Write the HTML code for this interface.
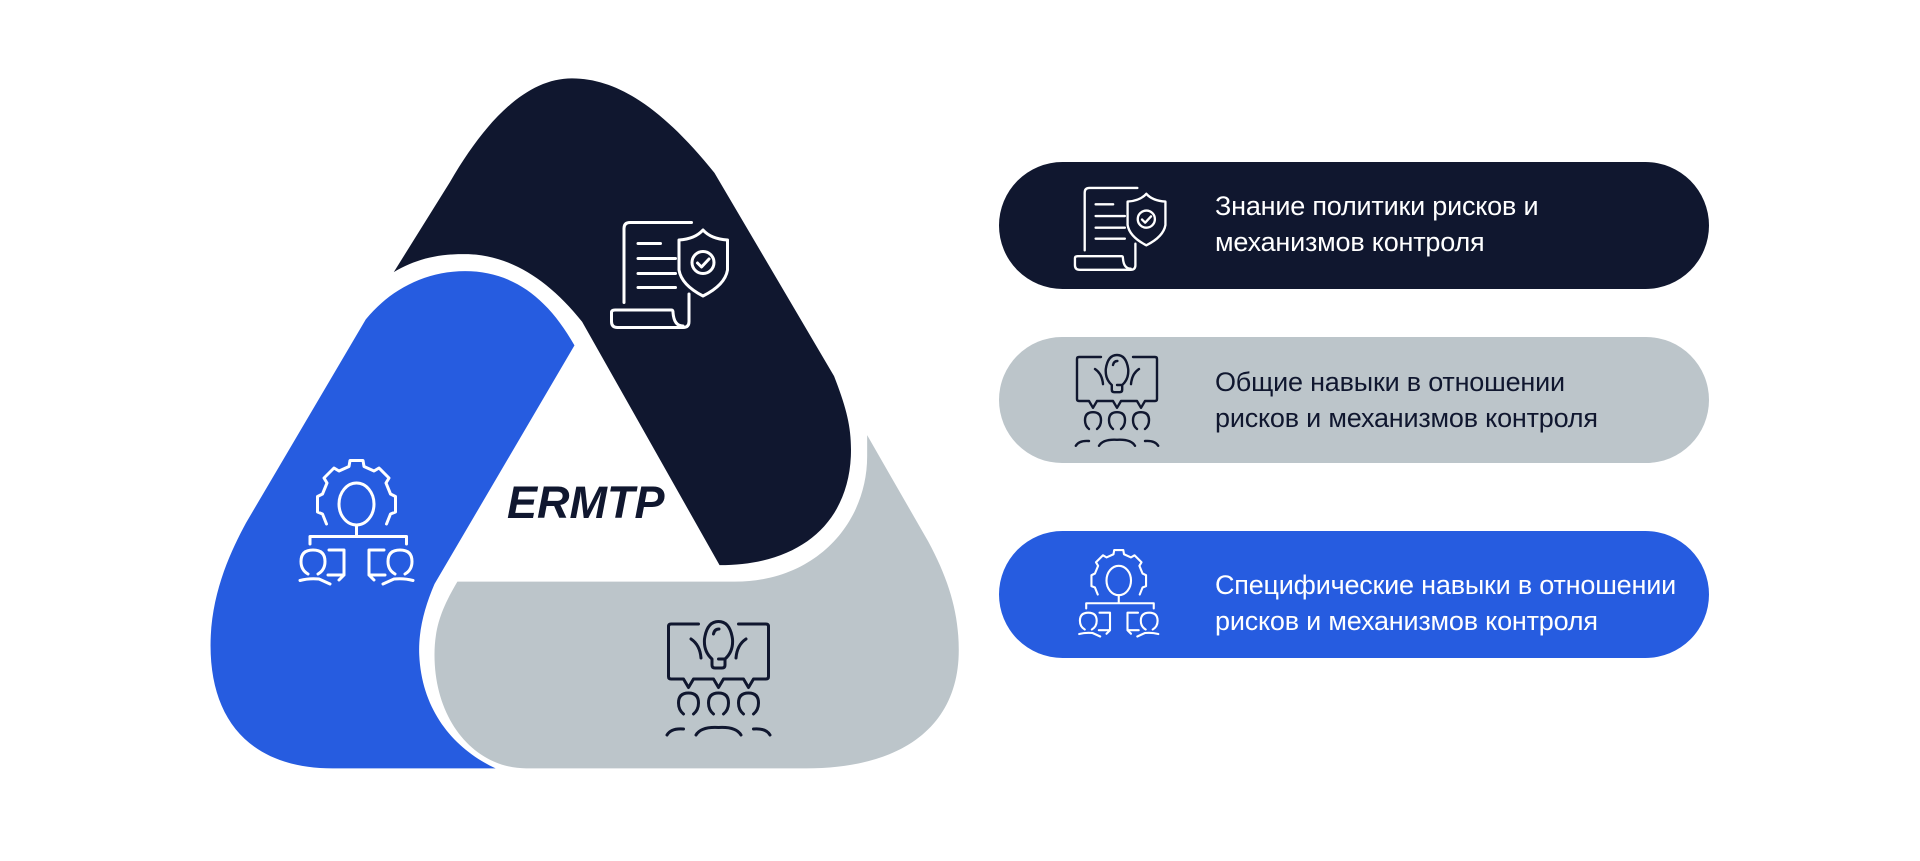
<!DOCTYPE html>
<html><head><meta charset="utf-8"><style>
html,body{margin:0;padding:0;background:#fff;width:1920px;height:861px;overflow:hidden;font-family:"Liberation Sans",sans-serif}
.pill{position:absolute;left:999px;width:710px;border-radius:64px}
.txt{position:absolute;left:1215px;font-size:27px;line-height:36px;letter-spacing:-0.2px}
</style></head><body>
<svg width="1920" height="861" style="position:absolute;left:0;top:0">
<defs>
<g id="ic1" fill="none" stroke-width="6" stroke-linecap="round" stroke-linejoin="round">
 <path d="M165,5 L42,5 Q30,5 30,17 L30,165"/>
 <path d="M58,47 H103 M58,77 H133 M58,107 H133 M58,135 H133"/>
 <path d="M160,148 L160,203 Q160,215 148,215 L17,215 Q5,215 5,203 L5,185 Q5,180 12,180 L125,180 Q128,180 128,185 Q130,212 148,212"/>
 <path d="M188,20 Q172,38 140,40 L140,100 Q145,130 188,152 Q232,130 237,100 L237,40 Q204,38 188,20 Z"/>
 <circle cx="188" cy="85" r="22"/>
 <path d="M177,86 L185,94 L200,78"/>
</g>
<g id="ic2" fill="none" stroke-width="6" stroke-linecap="round" stroke-linejoin="round">
 <ellipse cx="125" cy="90" rx="35" ry="42"/>
 <path d="M65,130 L57,110 L47,106 L47,75 L57,70 L66,48 L60,38 L80,18 L90,24 L110,15 L112,3 L138,3 L140,15 L160,24 L170,18 L190,38 L184,48 L193,70 L203,75 L203,106 L193,110 L185,130"/>
 <path d="M125,132 V155 M32,170 V155 H225 V170"/>
 <path d="M28,230 Q14,222 14,205 Q14,182 38,182 Q62,182 62,205 Q62,222 48,230"/>
 <path d="M12,243 Q30,238 50,240 L72,250"/>
 <path d="M70,182 H100 V232 L90,242 M68,232 H100"/>
 <path d="M222,230 Q236,222 236,205 Q236,182 212,182 Q188,182 188,205 Q188,222 202,230"/>
 <path d="M238,243 Q220,238 200,240 L178,250"/>
 <path d="M180,182 H150 V232 L160,242 M182,232 H150"/>
</g>
<g id="ic3" fill="none" stroke-width="6" stroke-linecap="round" stroke-linejoin="round">
 <path d="M65,10 H10 Q5,10 5,15 V115 Q5,120 10,120 H35 L45,137 L55,120 H95 L105,137 L115,120 H155 L165,137 L175,120 H200 Q205,120 205,115 V15 Q205,10 200,10 H145"/>
 <path d="M92,80 Q75,65 77,40 Q82,5 105,5 Q128,5 133,40 Q135,65 118,80 L118,92 Q118,98 112,98 H98 Q92,98 92,92 Z M105,80 H118"/>
 <path d="M95,30 Q97,20 106,20"/>
 <path d="M50,40 Q68,52 70,78 M160,40 Q142,52 140,78"/>
 <g id="pp"><path d="M35,190 Q25,182 25,168 Q25,148 45,148 Q65,148 65,168 Q65,182 55,190"/></g>
 <use href="#pp" transform="translate(60,0)"/><use href="#pp" transform="translate(120,0)"/>
 <path d="M2,232 Q10,218 35,220 M60,232 Q70,215 105,217 Q140,215 150,232 M175,220 Q200,218 208,232"/>
</g>
</defs>
<g transform="translate(180,50) scale(0.509,0.4726)">
 <path fill="#10172f" d="M420,470 L530,280 C600,150 680,60 770,60 C870,60 960,140 1050,260 L1285,690 C1310,760 1320,800 1318,860 C1312,1000 1220,1090 1060,1090 L790,575 C720,480 640,430 555,432 C500,432 460,445 420,470 Z"/>
 <path fill="#265ce0" d="M775,625 L500,1130 C480,1180 468,1230 470,1280 C475,1400 540,1480 620,1520 L300,1520 C140,1520 60,1420 60,1260 C60,1150 100,1060 130,1000 L365,570 C410,510 480,468 560,468 C650,468 720,520 775,625 Z"/>
 <path fill="#bcc5ca" d="M545,1125 L1090,1125 C1250,1125 1350,1000 1350,860 L1350,815 L1470,1040 C1510,1120 1530,1190 1530,1270 C1530,1430 1420,1520 1230,1520 L680,1520 C580,1520 500,1420 500,1280 C500,1220 515,1180 545,1125 Z"/>
</g>
<use href="#ic1" transform="translate(609,220) scale(0.5)" stroke="#fff"/>
<use href="#ic2" transform="translate(294,459) scale(0.5)" stroke="#fff"/>
<use href="#ic3" transform="translate(666,619) scale(0.5)" stroke="#10172f"/>
<text x="507" y="518" font-family="Liberation Sans, sans-serif" font-weight="bold" font-style="italic" font-size="45" fill="#10172f">ERMTP</text>
</svg>
<div class="pill" style="top:162px;height:127px;background:#10172f"></div>
<div class="pill" style="top:337px;height:126px;background:#bcc5ca"></div>
<div class="pill" style="top:531px;height:127px;background:#265ce0"></div>
<svg width="1920" height="861" style="position:absolute;left:0;top:0">
 <use href="#ic1" transform="translate(1073,186) scale(0.39)" stroke="#fff" style="stroke-width:7"/>
 <use href="#ic3" transform="translate(1075,353) scale(0.40)" stroke="#10172f"/>
 <use href="#ic2" transform="translate(1075,549) scale(0.35)" stroke="#fff"/>
</svg>
<div class="txt" style="top:188px;color:#fff">Знание политики рисков и<br>механизмов контроля</div>
<div class="txt" style="top:364px;color:#10172f">Общие навыки в отношении<br>рисков и механизмов контроля</div>
<div class="txt" style="top:567px;color:#fff">Специфические навыки в отношении<br>рисков и механизмов контроля</div>
</body></html>
